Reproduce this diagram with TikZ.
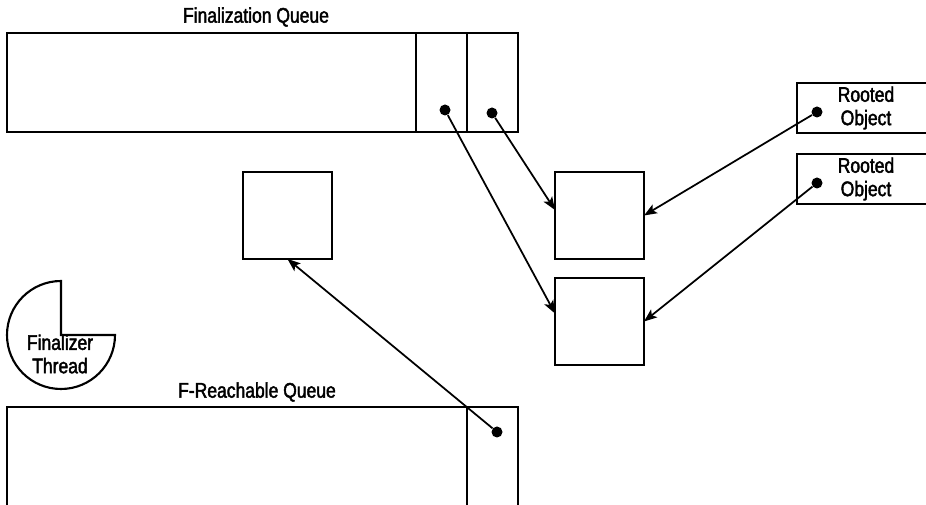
\documentclass[tikz,border=0pt]{standalone}
\usepackage{fontspec}
\setmainfont{Liberation Sans}[FakeStretch=0.83, FakeBold=2]
\usetikzlibrary{arrows.meta,positioning}

\begin{document}
\begin{tikzpicture}[
  x=0.2mm, y=-0.2mm, >={Stealth[length=2.6mm,width=2mm,inset=0.6mm]},
  every node/.style={font=\fontsize{12}{13.3}\selectfont},
  box/.style={draw, line width=1.2pt, inner sep=0pt, outer sep=0pt},
  queue/.style={box, minimum width=102.2mm, minimum height=19.8mm},
  slot/.style={box, minimum width=10.2mm, minimum height=19.8mm},
  obj/.style={box, minimum width=17.8mm, minimum height=17.4mm},
  rooted/.style={box, minimum width=27.6mm, minimum height=10mm, align=center},
  dot/.style={circle, fill, inner sep=0pt, minimum size=2.2mm},
  link/.style={->, line width=1pt}
]
  \useasboundingbox (0,0) rectangle (926,505);

  % finalization queue
  \node[queue, anchor=north west] (fqueue) at (7,33) {};
  \node[slot, anchor=north east] (fslot2) at (fqueue.north east) {};
  \node[slot, left=0pt of fslot2] (fslot1) {};
  \node (fqlabel) at (256,17) {Finalization Queue};

  % objects on the heap
  \node[obj, anchor=north west] (objc) at (243,172) {};
  \node[obj, anchor=north west] (obja) at (555,172) {};
  \node[obj, anchor=north west] (objb) at (555,278) {};

  % roots
  \node[rooted, anchor=north west] (root1) at (797,83) {Rooted\\Object};
  \node[rooted, anchor=north west] (root2) at (797,154) {Rooted\\Object};

  % f-reachable queue
  \node[queue, anchor=north west, minimum height=24mm] (rqueue) at (7,407) {};
  \node[slot, anchor=north east, minimum height=24mm] (rslot) at (rqueue.north east) {};
  \node (rqlabel) at (257,392) {F-Reachable Queue};

  % finalizer thread
  \draw[line width=1.2pt] (61,335) -- ++(54,0)
    arc[start angle=0, end angle=270, radius=54] -- cycle;
  \node[align=center] (thread) at (60,354) {Finalizer\\Thread};

  % pointers
  \node[dot] (fdot1) at (445,110) {};
  \node[dot] (fdot2) at (492,113) {};
  \node[dot] (rdot1) at (817,112) {};
  \node[dot] (rdot2) at (817,183) {};
  \node[dot] (qdot) at (497,432) {};

  \draw[link] (fdot1) -- ([yshift=1.6mm]objb.west);
  \draw[link] (fdot2) -- ([yshift=1.1mm]obja.west);
  \draw[link] (rdot1) -- (obja.east);
  \draw[link] (rdot2) -- (objb.east);
  \draw[link] (qdot) -- (objc.south);
\end{tikzpicture}
\end{document}
